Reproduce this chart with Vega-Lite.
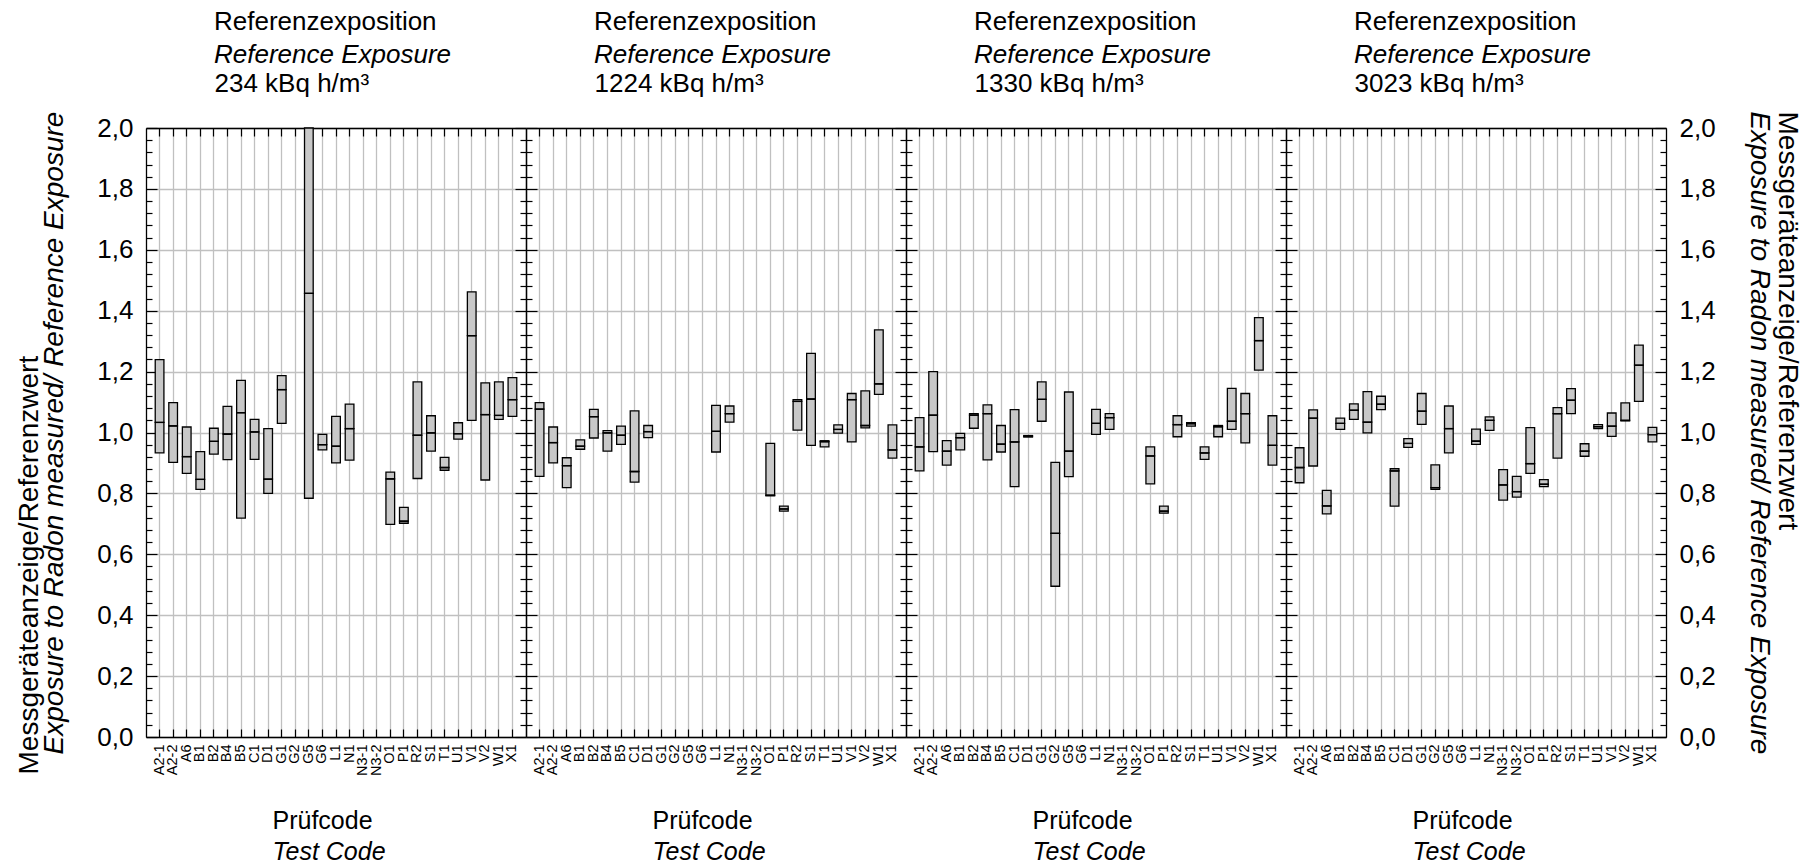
{
  "$schema": "https://vega.github.io/schema/vega-lite/v6.json",
  "autosize": {"type": "pad"},
  "padding": {"left": 15, "top": 9, "right": 5, "bottom": 5},
  "background": "white",
  "spacing": 0,
  "bounds": "flush",
  "config": {
    "font": "Liberation Sans",
    "view": {"stroke": null},
    "axis": {"labelColor": "black", "titleColor": "black", "domainColor": "black", "tickColor": "black", "gridColor": "#c0c0c0", "domainWidth": 1.3, "tickWidth": 1.2, "gridWidth": 1.3, "titleFontWeight": "normal", "labelFont": "Liberation Sans", "titleFont": "Liberation Sans"},
    "title": {"anchor": "start", "frame": "group", "dx": 68, "fontSize": 26, "fontWeight": "normal", "subtitleFontSize": 26, "subtitleFontStyle": "italic", "subtitlePadding": 7, "offset": 2, "color": "black", "subtitleColor": "black", "font": "Liberation Sans", "subtitleFont": "Liberation Sans"}
  },
  "datasets": {
    "boxes": [
      {"exp": "234", "code": "A2-1", "lo": 0.933, "med": 1.033, "hi": 1.239},
      {"exp": "234", "code": "A2-2", "lo": 0.902, "med": 1.022, "hi": 1.098},
      {"exp": "234", "code": "A6", "lo": 0.866, "med": 0.921, "hi": 1.018},
      {"exp": "234", "code": "B1", "lo": 0.813, "med": 0.846, "hi": 0.937},
      {"exp": "234", "code": "B2", "lo": 0.929, "med": 0.971, "hi": 1.014},
      {"exp": "234", "code": "B4", "lo": 0.911, "med": 0.995, "hi": 1.086},
      {"exp": "234", "code": "B5", "lo": 0.719, "med": 1.065, "hi": 1.171},
      {"exp": "234", "code": "C1", "lo": 0.912, "med": 1.002, "hi": 1.043},
      {"exp": "234", "code": "D1", "lo": 0.8, "med": 0.847, "hi": 1.013},
      {"exp": "234", "code": "G1", "lo": 1.03, "med": 1.141, "hi": 1.187},
      {"exp": "234", "code": "G5", "lo": 0.784, "med": 1.457, "hi": 2.0},
      {"exp": "234", "code": "G6", "lo": 0.943, "med": 0.96, "hi": 0.994},
      {"exp": "234", "code": "L1", "lo": 0.9, "med": 0.955, "hi": 1.053},
      {"exp": "234", "code": "N1", "lo": 0.909, "med": 1.013, "hi": 1.093},
      {"exp": "234", "code": "O1", "lo": 0.698, "med": 0.848, "hi": 0.87},
      {"exp": "234", "code": "P1", "lo": 0.702, "med": 0.709, "hi": 0.754},
      {"exp": "234", "code": "R2", "lo": 0.849, "med": 0.991, "hi": 1.166},
      {"exp": "234", "code": "S1", "lo": 0.939, "med": 0.999, "hi": 1.055},
      {"exp": "234", "code": "T1", "lo": 0.876, "med": 0.885, "hi": 0.918},
      {"exp": "234", "code": "U1", "lo": 0.978, "med": 0.996, "hi": 1.032},
      {"exp": "234", "code": "V1", "lo": 1.04, "med": 1.318, "hi": 1.462},
      {"exp": "234", "code": "V2", "lo": 0.844, "med": 1.059, "hi": 1.163},
      {"exp": "234", "code": "W1", "lo": 1.043, "med": 1.056, "hi": 1.166},
      {"exp": "234", "code": "X1", "lo": 1.053, "med": 1.108, "hi": 1.18},
      {"exp": "1224", "code": "A2-1", "lo": 0.856, "med": 1.077, "hi": 1.098},
      {"exp": "1224", "code": "A2-2", "lo": 0.9, "med": 0.967, "hi": 1.018},
      {"exp": "1224", "code": "A6", "lo": 0.819, "med": 0.891, "hi": 0.917},
      {"exp": "1224", "code": "B1", "lo": 0.945, "med": 0.955, "hi": 0.976},
      {"exp": "1224", "code": "B2", "lo": 0.982, "med": 1.052, "hi": 1.076},
      {"exp": "1224", "code": "B4", "lo": 0.939, "med": 0.999, "hi": 1.006},
      {"exp": "1224", "code": "B5", "lo": 0.961, "med": 0.991, "hi": 1.021},
      {"exp": "1224", "code": "C1", "lo": 0.837, "med": 0.872, "hi": 1.071},
      {"exp": "1224", "code": "D1", "lo": 0.983, "med": 1.003, "hi": 1.023},
      {"exp": "1224", "code": "L1", "lo": 0.936, "med": 1.004, "hi": 1.089},
      {"exp": "1224", "code": "N1", "lo": 1.034, "med": 1.062, "hi": 1.087},
      {"exp": "1224", "code": "O1", "lo": 0.792, "med": 0.794, "hi": 0.964},
      {"exp": "1224", "code": "P1", "lo": 0.742, "med": 0.749, "hi": 0.758},
      {"exp": "1224", "code": "R2", "lo": 1.008, "med": 1.102, "hi": 1.108},
      {"exp": "1224", "code": "S1", "lo": 0.958, "med": 1.11, "hi": 1.26},
      {"exp": "1224", "code": "T1", "lo": 0.953, "med": 0.97, "hi": 0.973},
      {"exp": "1224", "code": "U1", "lo": 0.998, "med": 1.01, "hi": 1.025},
      {"exp": "1224", "code": "V1", "lo": 0.969, "med": 1.108, "hi": 1.128},
      {"exp": "1224", "code": "V2", "lo": 1.015, "med": 1.023, "hi": 1.137},
      {"exp": "1224", "code": "W1", "lo": 1.125, "med": 1.16, "hi": 1.337},
      {"exp": "1224", "code": "X1", "lo": 0.916, "med": 0.943, "hi": 1.025},
      {"exp": "1330", "code": "A2-1", "lo": 0.874, "med": 0.953, "hi": 1.049},
      {"exp": "1330", "code": "A2-2", "lo": 0.937, "med": 1.057, "hi": 1.2},
      {"exp": "1330", "code": "A6", "lo": 0.893, "med": 0.939, "hi": 0.973},
      {"exp": "1330", "code": "B1", "lo": 0.943, "med": 0.983, "hi": 0.997},
      {"exp": "1330", "code": "B2", "lo": 1.014, "med": 1.057, "hi": 1.062},
      {"exp": "1330", "code": "B4", "lo": 0.91, "med": 1.062, "hi": 1.091},
      {"exp": "1330", "code": "B5", "lo": 0.936, "med": 0.962, "hi": 1.023},
      {"exp": "1330", "code": "C1", "lo": 0.822, "med": 0.969, "hi": 1.075},
      {"exp": "1330", "code": "D1", "lo": 0.985, "med": 0.988, "hi": 0.99},
      {"exp": "1330", "code": "G1", "lo": 1.037, "med": 1.109, "hi": 1.166},
      {"exp": "1330", "code": "G2", "lo": 0.495, "med": 0.669, "hi": 0.902},
      {"exp": "1330", "code": "G5", "lo": 0.855, "med": 0.939, "hi": 1.133},
      {"exp": "1330", "code": "L1", "lo": 0.994, "med": 1.03, "hi": 1.076},
      {"exp": "1330", "code": "N1", "lo": 1.01, "med": 1.049, "hi": 1.062},
      {"exp": "1330", "code": "O1", "lo": 0.831, "med": 0.923, "hi": 0.953},
      {"exp": "1330", "code": "P1", "lo": 0.735, "med": 0.742, "hi": 0.758},
      {"exp": "1330", "code": "R2", "lo": 0.986, "med": 1.026, "hi": 1.055},
      {"exp": "1330", "code": "S1", "lo": 1.021, "med": 1.029, "hi": 1.032},
      {"exp": "1330", "code": "T1", "lo": 0.912, "med": 0.933, "hi": 0.953},
      {"exp": "1330", "code": "U1", "lo": 0.986, "med": 1.019, "hi": 1.023},
      {"exp": "1330", "code": "V1", "lo": 1.01, "med": 1.037, "hi": 1.145},
      {"exp": "1330", "code": "V2", "lo": 0.966, "med": 1.062, "hi": 1.128},
      {"exp": "1330", "code": "W1", "lo": 1.205, "med": 1.302, "hi": 1.377},
      {"exp": "1330", "code": "X1", "lo": 0.893, "med": 0.958, "hi": 1.055},
      {"exp": "3023", "code": "A2-1", "lo": 0.835, "med": 0.885, "hi": 0.95},
      {"exp": "3023", "code": "A2-2", "lo": 0.89, "med": 1.047, "hi": 1.074},
      {"exp": "3023", "code": "A6", "lo": 0.733, "med": 0.759, "hi": 0.81},
      {"exp": "3023", "code": "B1", "lo": 1.01, "med": 1.03, "hi": 1.047},
      {"exp": "3023", "code": "B2", "lo": 1.043, "med": 1.073, "hi": 1.094},
      {"exp": "3023", "code": "B4", "lo": 0.999, "med": 1.034, "hi": 1.134},
      {"exp": "3023", "code": "B5", "lo": 1.075, "med": 1.093, "hi": 1.119},
      {"exp": "3023", "code": "C1", "lo": 0.758, "med": 0.874, "hi": 0.881},
      {"exp": "3023", "code": "D1", "lo": 0.951, "med": 0.964, "hi": 0.98},
      {"exp": "3023", "code": "G1", "lo": 1.027, "med": 1.07, "hi": 1.128},
      {"exp": "3023", "code": "G2", "lo": 0.813, "med": 0.819, "hi": 0.894},
      {"exp": "3023", "code": "G5", "lo": 0.933, "med": 1.013, "hi": 1.087},
      {"exp": "3023", "code": "L1", "lo": 0.961, "med": 0.972, "hi": 1.011},
      {"exp": "3023", "code": "N1", "lo": 1.007, "med": 1.04, "hi": 1.051},
      {"exp": "3023", "code": "N3-1", "lo": 0.778, "med": 0.828, "hi": 0.878},
      {"exp": "3023", "code": "N3-2", "lo": 0.788, "med": 0.806, "hi": 0.856},
      {"exp": "3023", "code": "O1", "lo": 0.866, "med": 0.898, "hi": 1.016},
      {"exp": "3023", "code": "P1", "lo": 0.822, "med": 0.83, "hi": 0.845},
      {"exp": "3023", "code": "R2", "lo": 0.916, "med": 1.062, "hi": 1.082},
      {"exp": "3023", "code": "S1", "lo": 1.062, "med": 1.106, "hi": 1.144},
      {"exp": "3023", "code": "T1", "lo": 0.922, "med": 0.939, "hi": 0.963},
      {"exp": "3023", "code": "U1", "lo": 1.013, "med": 1.019, "hi": 1.026},
      {"exp": "3023", "code": "V1", "lo": 0.987, "med": 1.021, "hi": 1.064},
      {"exp": "3023", "code": "V2", "lo": 1.038, "med": 1.04, "hi": 1.097},
      {"exp": "3023", "code": "W1", "lo": 1.102, "med": 1.221, "hi": 1.287},
      {"exp": "3023", "code": "X1", "lo": 0.969, "med": 0.993, "hi": 1.017}
    ]
  },
  "hconcat": [
    {
      "width": 380, "height": 609,
      "title": {"text": "Referenzexposition", "subtitle": "Reference Exposure"},
      "data": {"name": "boxes"},
      "transform": [{"filter": "datum.exp === '234'"}],
      "layer": [
        {"mark": {"type": "bar", "fill": "#c8c8c8", "stroke": "black", "strokeWidth": 1.3},
         "encoding": {
           "x": {"field": "code", "type": "nominal", "sort": ["A2-1","A2-2","A6","B1","B2","B4","B5","C1","D1","G1","G2","G5","G6","L1","N1","N3-1","N3-2","O1","P1","R2","S1","T1","U1","V1","V2","W1","X1"], "scale": {"domain": ["A2-1","A2-2","A6","B1","B2","B4","B5","C1","D1","G1","G2","G5","G6","L1","N1","N3-1","N3-2","O1","P1","R2","S1","T1","U1","V1","V2","W1","X1"], "paddingInner": 0.36, "paddingOuter": 0.68},
                 "axis": {"orient": "bottom", "title": "Prüfcode", "titleFontSize": 25, "titleAlign": "left", "titleAnchor": "start", "titleX": 126, "titleY": 91, "titleBaseline": "alphabetic", "labelAngle": -90, "labelFontSize": 14.5, "labelPadding": 15, "tickSize": -8, "bandPosition": 0.5, "grid": true, "domain": true}},
           "y": {"field": "lo", "type": "quantitative", "scale": {"domain": [0, 2], "nice": false, "zero": false},
                 "axis": {"orient": "left", "values": [0,0.04,0.08,0.12,0.16,0.2,0.24,0.28,0.32,0.36,0.4,0.44,0.48,0.52,0.56,0.6,0.64,0.68,0.72,0.76,0.8,0.84,0.88,0.92,0.96,1,1.04,1.08,1.12,1.16,1.2,1.24,1.28,1.32,1.36,1.4,1.44,1.48,1.52,1.56,1.6,1.64,1.68,1.72,1.76,1.8,1.84,1.88,1.92,1.96,2],
                   "tickSize": {"condition": {"test": "abs(datum.value*5 - round(datum.value*5)) < 0.001", "value": -11}, "value": -6},
                   "grid": true, "gridOpacity": {"condition": {"test": "abs(datum.value*5 - round(datum.value*5)) < 0.001", "value": 1}, "value": 0},
                   "labelExpr": "abs(datum.value*5 - round(datum.value*5)) < 0.001 ? replace(format(datum.value, '.1f'), '.', ',') : ''",
                   "labelFontSize": 26, "labelPadding": 24, "labelFlush": false, "labelOverlap": false,
                   "title": "Exposure to Radon measured/ Reference Exposure", "titleFontStyle": "italic", "titleFontSize": 28, "titleX": -84, "titleY": 304.5, "titleAngle": -90, "titleAlign": "center", "titleBaseline": "alphabetic"}},
           "y2": {"field": "med"}}},
        {"mark": {"type": "bar", "fill": "#c8c8c8", "stroke": "black", "strokeWidth": 1.3},
         "encoding": {
           "x": {"field": "code", "type": "nominal", "axis": {"orient": "top", "labels": false, "tickSize": -8, "bandPosition": 0.5, "grid": false, "domain": true, "title": "234 kBq h/m³", "titleFontSize": 26, "titleAlign": "left", "titleAnchor": "start", "titleX": 68, "titleY": -37, "titleBaseline": "alphabetic"}},
           "y": {"field": "med", "type": "quantitative",
                 "axis": {"orient": "right", "values": [0,0.04,0.08,0.12,0.16,0.2,0.24,0.28,0.32,0.36,0.4,0.44,0.48,0.52,0.56,0.6,0.64,0.68,0.72,0.76,0.8,0.84,0.88,0.92,0.96,1,1.04,1.08,1.12,1.16,1.2,1.24,1.28,1.32,1.36,1.4,1.44,1.48,1.52,1.56,1.6,1.64,1.68,1.72,1.76,1.8,1.84,1.88,1.92,1.96,2],
                   "tickSize": {"condition": {"test": "abs(datum.value*5 - round(datum.value*5)) < 0.001", "value": -11}, "value": -6},
                   "grid": false, "labels": false, "title": null}},
           "y2": {"field": "hi"}}},
        {"mark": {"type": "tick", "color": "black", "thickness": 1.3, "size": 9, "opacity": 1},
         "encoding": {
           "x": {"field": "code", "type": "nominal", "axis": {"orient": "bottom", "labels": false, "ticks": false, "domain": false, "grid": false, "title": "Test Code", "titleFontStyle": "italic", "titleFontSize": 25, "titleAlign": "left", "titleAnchor": "start", "titleX": 126, "titleY": 122, "titleBaseline": "alphabetic"}},
           "y": {"field": "med", "type": "quantitative",
                 "axis": {"orient": "left", "ticks": false, "labels": false, "domain": false, "grid": false, "title": "Messgeräteanzeige/Referenzwert", "titleFontSize": 28, "titleX": -109, "titleY": 646, "titleAngle": -90, "titleAlign": "left", "titleBaseline": "alphabetic"}}}}
      ],
      "resolve": {"axis": {"x": "independent", "y": "independent"}}
    },
    {
      "width": 380, "height": 609,
      "title": {"text": "Referenzexposition", "subtitle": "Reference Exposure"},
      "data": {"name": "boxes"},
      "transform": [{"filter": "datum.exp === '1224'"}],
      "layer": [
        {"mark": {"type": "bar", "fill": "#c8c8c8", "stroke": "black", "strokeWidth": 1.3},
         "encoding": {
           "x": {"field": "code", "type": "nominal", "sort": ["A2-1","A2-2","A6","B1","B2","B4","B5","C1","D1","G1","G2","G5","G6","L1","N1","N3-1","N3-2","O1","P1","R2","S1","T1","U1","V1","V2","W1","X1"], "scale": {"domain": ["A2-1","A2-2","A6","B1","B2","B4","B5","C1","D1","G1","G2","G5","G6","L1","N1","N3-1","N3-2","O1","P1","R2","S1","T1","U1","V1","V2","W1","X1"], "paddingInner": 0.36, "paddingOuter": 0.68},
                 "axis": {"orient": "bottom", "title": "Prüfcode", "titleFontSize": 25, "titleAlign": "left", "titleAnchor": "start", "titleX": 126, "titleY": 91, "titleBaseline": "alphabetic", "labelAngle": -90, "labelFontSize": 14.5, "labelPadding": 15, "tickSize": -8, "bandPosition": 0.5, "grid": true, "domain": true}},
           "y": {"field": "lo", "type": "quantitative", "scale": {"domain": [0, 2], "nice": false, "zero": false},
                 "axis": {"orient": "left", "values": [0,0.04,0.08,0.12,0.16,0.2,0.24,0.28,0.32,0.36,0.4,0.44,0.48,0.52,0.56,0.6,0.64,0.68,0.72,0.76,0.8,0.84,0.88,0.92,0.96,1,1.04,1.08,1.12,1.16,1.2,1.24,1.28,1.32,1.36,1.4,1.44,1.48,1.52,1.56,1.6,1.64,1.68,1.72,1.76,1.8,1.84,1.88,1.92,1.96,2],
                   "tickSize": {"condition": {"test": "abs(datum.value*5 - round(datum.value*5)) < 0.001", "value": -11}, "value": -6},
                   "grid": true, "gridOpacity": {"condition": {"test": "abs(datum.value*5 - round(datum.value*5)) < 0.001", "value": 1}, "value": 0},
                   "labels": false, "title": null}},
           "y2": {"field": "med"}}},
        {"mark": {"type": "bar", "fill": "#c8c8c8", "stroke": "black", "strokeWidth": 1.3},
         "encoding": {
           "x": {"field": "code", "type": "nominal", "axis": {"orient": "top", "labels": false, "tickSize": -8, "bandPosition": 0.5, "grid": false, "domain": true, "title": "1224 kBq h/m³", "titleFontSize": 26, "titleAlign": "left", "titleAnchor": "start", "titleX": 68, "titleY": -37, "titleBaseline": "alphabetic"}},
           "y": {"field": "med", "type": "quantitative",
                 "axis": {"orient": "right", "values": [0,0.04,0.08,0.12,0.16,0.2,0.24,0.28,0.32,0.36,0.4,0.44,0.48,0.52,0.56,0.6,0.64,0.68,0.72,0.76,0.8,0.84,0.88,0.92,0.96,1,1.04,1.08,1.12,1.16,1.2,1.24,1.28,1.32,1.36,1.4,1.44,1.48,1.52,1.56,1.6,1.64,1.68,1.72,1.76,1.8,1.84,1.88,1.92,1.96,2],
                   "tickSize": {"condition": {"test": "abs(datum.value*5 - round(datum.value*5)) < 0.001", "value": -11}, "value": -6},
                   "grid": false, "labels": false, "title": null}},
           "y2": {"field": "hi"}}},
        {"mark": {"type": "tick", "color": "black", "thickness": 1.3, "size": 9, "opacity": 1},
         "encoding": {
           "x": {"field": "code", "type": "nominal", "axis": {"orient": "bottom", "labels": false, "ticks": false, "domain": false, "grid": false, "title": "Test Code", "titleFontStyle": "italic", "titleFontSize": 25, "titleAlign": "left", "titleAnchor": "start", "titleX": 126, "titleY": 122, "titleBaseline": "alphabetic"}},
           "y": {"field": "med", "type": "quantitative", "axis": null}}}
      ],
      "resolve": {"axis": {"x": "independent", "y": "independent"}}
    },
    {
      "width": 380, "height": 609,
      "title": {"text": "Referenzexposition", "subtitle": "Reference Exposure"},
      "data": {"name": "boxes"},
      "transform": [{"filter": "datum.exp === '1330'"}],
      "layer": [
        {"mark": {"type": "bar", "fill": "#c8c8c8", "stroke": "black", "strokeWidth": 1.3},
         "encoding": {
           "x": {"field": "code", "type": "nominal", "sort": ["A2-1","A2-2","A6","B1","B2","B4","B5","C1","D1","G1","G2","G5","G6","L1","N1","N3-1","N3-2","O1","P1","R2","S1","T1","U1","V1","V2","W1","X1"], "scale": {"domain": ["A2-1","A2-2","A6","B1","B2","B4","B5","C1","D1","G1","G2","G5","G6","L1","N1","N3-1","N3-2","O1","P1","R2","S1","T1","U1","V1","V2","W1","X1"], "paddingInner": 0.36, "paddingOuter": 0.68},
                 "axis": {"orient": "bottom", "title": "Prüfcode", "titleFontSize": 25, "titleAlign": "left", "titleAnchor": "start", "titleX": 126, "titleY": 91, "titleBaseline": "alphabetic", "labelAngle": -90, "labelFontSize": 14.5, "labelPadding": 15, "tickSize": -8, "bandPosition": 0.5, "grid": true, "domain": true}},
           "y": {"field": "lo", "type": "quantitative", "scale": {"domain": [0, 2], "nice": false, "zero": false},
                 "axis": {"orient": "left", "values": [0,0.04,0.08,0.12,0.16,0.2,0.24,0.28,0.32,0.36,0.4,0.44,0.48,0.52,0.56,0.6,0.64,0.68,0.72,0.76,0.8,0.84,0.88,0.92,0.96,1,1.04,1.08,1.12,1.16,1.2,1.24,1.28,1.32,1.36,1.4,1.44,1.48,1.52,1.56,1.6,1.64,1.68,1.72,1.76,1.8,1.84,1.88,1.92,1.96,2],
                   "tickSize": {"condition": {"test": "abs(datum.value*5 - round(datum.value*5)) < 0.001", "value": -11}, "value": -6},
                   "grid": true, "gridOpacity": {"condition": {"test": "abs(datum.value*5 - round(datum.value*5)) < 0.001", "value": 1}, "value": 0},
                   "labels": false, "title": null}},
           "y2": {"field": "med"}}},
        {"mark": {"type": "bar", "fill": "#c8c8c8", "stroke": "black", "strokeWidth": 1.3},
         "encoding": {
           "x": {"field": "code", "type": "nominal", "axis": {"orient": "top", "labels": false, "tickSize": -8, "bandPosition": 0.5, "grid": false, "domain": true, "title": "1330 kBq h/m³", "titleFontSize": 26, "titleAlign": "left", "titleAnchor": "start", "titleX": 68, "titleY": -37, "titleBaseline": "alphabetic"}},
           "y": {"field": "med", "type": "quantitative",
                 "axis": {"orient": "right", "values": [0,0.04,0.08,0.12,0.16,0.2,0.24,0.28,0.32,0.36,0.4,0.44,0.48,0.52,0.56,0.6,0.64,0.68,0.72,0.76,0.8,0.84,0.88,0.92,0.96,1,1.04,1.08,1.12,1.16,1.2,1.24,1.28,1.32,1.36,1.4,1.44,1.48,1.52,1.56,1.6,1.64,1.68,1.72,1.76,1.8,1.84,1.88,1.92,1.96,2],
                   "tickSize": {"condition": {"test": "abs(datum.value*5 - round(datum.value*5)) < 0.001", "value": -11}, "value": -6},
                   "grid": false, "labels": false, "title": null}},
           "y2": {"field": "hi"}}},
        {"mark": {"type": "tick", "color": "black", "thickness": 1.3, "size": 9, "opacity": 1},
         "encoding": {
           "x": {"field": "code", "type": "nominal", "axis": {"orient": "bottom", "labels": false, "ticks": false, "domain": false, "grid": false, "title": "Test Code", "titleFontStyle": "italic", "titleFontSize": 25, "titleAlign": "left", "titleAnchor": "start", "titleX": 126, "titleY": 122, "titleBaseline": "alphabetic"}},
           "y": {"field": "med", "type": "quantitative", "axis": null}}}
      ],
      "resolve": {"axis": {"x": "independent", "y": "independent"}}
    },
    {
      "width": 380, "height": 609,
      "title": {"text": "Referenzexposition", "subtitle": "Reference Exposure"},
      "data": {"name": "boxes"},
      "transform": [{"filter": "datum.exp === '3023'"}],
      "layer": [
        {"mark": {"type": "bar", "fill": "#c8c8c8", "stroke": "black", "strokeWidth": 1.3},
         "encoding": {
           "x": {"field": "code", "type": "nominal", "sort": ["A2-1","A2-2","A6","B1","B2","B4","B5","C1","D1","G1","G2","G5","G6","L1","N1","N3-1","N3-2","O1","P1","R2","S1","T1","U1","V1","V2","W1","X1"], "scale": {"domain": ["A2-1","A2-2","A6","B1","B2","B4","B5","C1","D1","G1","G2","G5","G6","L1","N1","N3-1","N3-2","O1","P1","R2","S1","T1","U1","V1","V2","W1","X1"], "paddingInner": 0.36, "paddingOuter": 0.68},
                 "axis": {"orient": "bottom", "title": "Prüfcode", "titleFontSize": 25, "titleAlign": "left", "titleAnchor": "start", "titleX": 126, "titleY": 91, "titleBaseline": "alphabetic", "labelAngle": -90, "labelFontSize": 14.5, "labelPadding": 15, "tickSize": -8, "bandPosition": 0.5, "grid": true, "domain": true}},
           "y": {"field": "lo", "type": "quantitative", "scale": {"domain": [0, 2], "nice": false, "zero": false},
                 "axis": {"orient": "left", "values": [0,0.04,0.08,0.12,0.16,0.2,0.24,0.28,0.32,0.36,0.4,0.44,0.48,0.52,0.56,0.6,0.64,0.68,0.72,0.76,0.8,0.84,0.88,0.92,0.96,1,1.04,1.08,1.12,1.16,1.2,1.24,1.28,1.32,1.36,1.4,1.44,1.48,1.52,1.56,1.6,1.64,1.68,1.72,1.76,1.8,1.84,1.88,1.92,1.96,2],
                   "tickSize": {"condition": {"test": "abs(datum.value*5 - round(datum.value*5)) < 0.001", "value": -11}, "value": -6},
                   "grid": true, "gridOpacity": {"condition": {"test": "abs(datum.value*5 - round(datum.value*5)) < 0.001", "value": 1}, "value": 0},
                   "labels": false, "title": null}},
           "y2": {"field": "med"}}},
        {"mark": {"type": "bar", "fill": "#c8c8c8", "stroke": "black", "strokeWidth": 1.3},
         "encoding": {
           "x": {"field": "code", "type": "nominal", "axis": {"orient": "top", "labels": false, "tickSize": -8, "bandPosition": 0.5, "grid": false, "domain": true, "title": "3023 kBq h/m³", "titleFontSize": 26, "titleAlign": "left", "titleAnchor": "start", "titleX": 68, "titleY": -37, "titleBaseline": "alphabetic"}},
           "y": {"field": "med", "type": "quantitative",
                 "axis": {"orient": "right", "values": [0,0.04,0.08,0.12,0.16,0.2,0.24,0.28,0.32,0.36,0.4,0.44,0.48,0.52,0.56,0.6,0.64,0.68,0.72,0.76,0.8,0.84,0.88,0.92,0.96,1,1.04,1.08,1.12,1.16,1.2,1.24,1.28,1.32,1.36,1.4,1.44,1.48,1.52,1.56,1.6,1.64,1.68,1.72,1.76,1.8,1.84,1.88,1.92,1.96,2],
                   "tickSize": {"condition": {"test": "abs(datum.value*5 - round(datum.value*5)) < 0.001", "value": -11}, "value": -6},
                   "grid": false,
                   "labelExpr": "abs(datum.value*5 - round(datum.value*5)) < 0.001 ? replace(format(datum.value, '.1f'), '.', ',') : ''",
                   "labelFontSize": 26, "labelPadding": 24, "labelFlush": false, "labelOverlap": false,
                   "title": "Exposure to Radon measured/ Reference Exposure", "titleFontStyle": "italic", "titleFontSize": 28, "titleX": 84, "titleY": 304.5, "titleAngle": 90, "titleAlign": "center", "titleBaseline": "alphabetic"}},
           "y2": {"field": "hi"}}},
        {"mark": {"type": "tick", "color": "black", "thickness": 1.3, "size": 9, "opacity": 1},
         "encoding": {
           "x": {"field": "code", "type": "nominal", "axis": {"orient": "bottom", "labels": false, "ticks": false, "domain": false, "grid": false, "title": "Test Code", "titleFontStyle": "italic", "titleFontSize": 25, "titleAlign": "left", "titleAnchor": "start", "titleX": 126, "titleY": 122, "titleBaseline": "alphabetic"}},
           "y": {"field": "med", "type": "quantitative",
                 "axis": {"orient": "right", "ticks": false, "labels": false, "domain": false, "grid": false, "title": "Messgeräteanzeige/Referenzwert", "titleFontSize": 28, "titleX": 112, "titleY": -17, "titleAngle": 90, "titleAlign": "left", "titleBaseline": "alphabetic"}}}}
      ],
      "resolve": {"axis": {"x": "independent", "y": "independent"}}
    }
  ]
}
